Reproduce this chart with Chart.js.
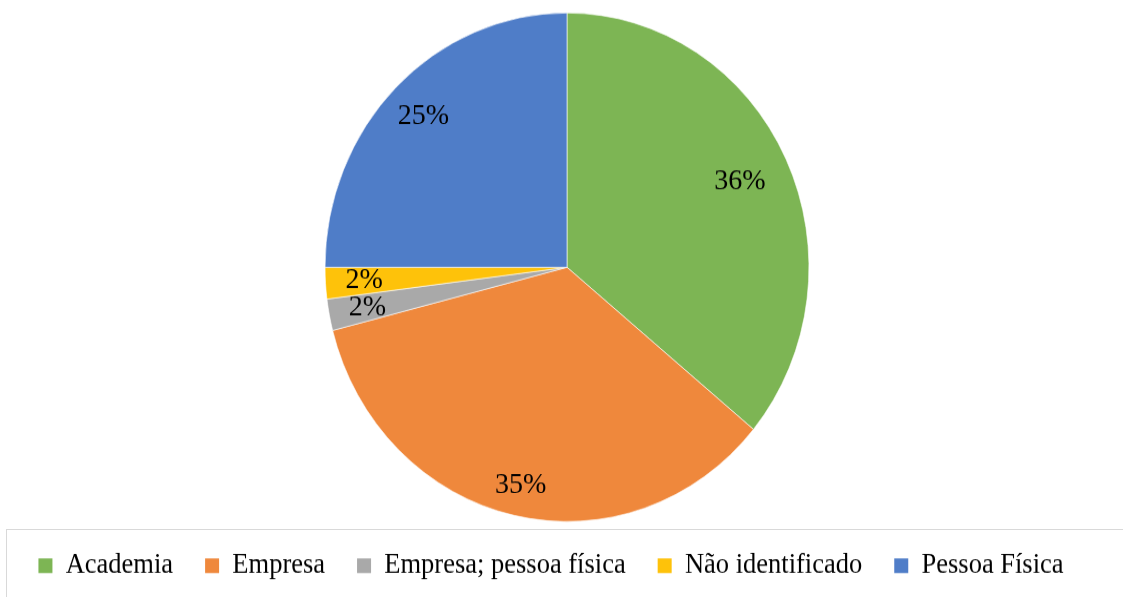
<!DOCTYPE html>
<html lang="pt">
<head>
<meta charset="UTF-8">
<title>Distribuição por tipo</title>
<script src="https://cdn.jsdelivr.net/npm/chart.js@4.4.1/dist/chart.umd.min.js"></script>
<style>
    body { margin: 0; background: #fff; }
    .wrap { position: relative; width: 1123px; height: 597px; overflow: hidden; }
    /* canvas drawn at 568px tall, shown at 597px: the reference pie is slightly oval */
    #chart { position: absolute; left: 0; top: 0; width: 1123px; height: 597px; }
    .legend-frame {
        position: absolute; left: 6px; right: -2px; top: 529px; height: 90px;
        border: 1px solid #d9d9d9; pointer-events: none;
    }
</style>
</head>
<body>
<div class="wrap">
    <canvas id="chart" width="1123" height="568" style="width:1123px;height:597px"></canvas>
    <div class="legend-frame"></div>
</div>

<script>
    // data (percent)
    var categories = ['Academia', 'Empresa', 'Empresa; pessoa física', 'Não identificado', 'Pessoa Física'];
    var shares = [36, 35, 2, 2, 25];
    var sliceColors = ['#7db554', '#ef883c', '#a9a9a9', '#fec20a', '#4f7dc8'];

    // how far out each label sits (fraction of radius), like Excel's best fit
    var labelReach = [0.79, 0.88, 0.84, 0.84, 0.84];

    var serif = '"Liberation Serif"';

    var pctLabels = {
        id: 'pctLabels',
        afterDatasetsDraw: function (chart) {
            var ctx = chart.ctx;
            var arcs = chart.getDatasetMeta(0).data;
            ctx.save();
            ctx.font = '28px ' + serif;
            ctx.fillStyle = '#000';
            ctx.textAlign = 'center';
            ctx.textBaseline = 'middle';
            arcs.forEach(function (a, i) {
                var mid = (a.startAngle + a.endAngle) / 2;
                var r = a.outerRadius * labelReach[i];
                ctx.fillText(shares[i] + '%', a.x + Math.cos(mid) * r, a.y + Math.sin(mid) * r);
            });
            ctx.restore();
        }
    };

    // legend sits a little left of the pie centre in the reference
    var legendShift = {
        id: 'legendShift',
        afterLayout: function (chart) {
            chart.legend.left -= 16;
            chart.legend.right -= 16;
            chart.legend.top -= 3.5;
            chart.legend.bottom -= 3.5;
        }
    };

    new Chart(document.getElementById('chart'), {
        type: 'pie',
        data: {
            labels: categories,
            datasets: [{
                data: shares,
                backgroundColor: sliceColors,
                borderColor: '#ffffff',
                borderWidth: 0.6
            }]
        },
        options: {
            responsive: false,
            animation: false,
            layout: { padding: { top: 12, left: 11, bottom: 3 } },
            plugins: {
                tooltip: { enabled: false },
                legend: {
                    position: 'bottom',
                    labels: {
                        color: '#111',
                        font: { family: serif, size: 26.5 },
                        boxWidth: 14,
                        boxHeight: 14,
                        padding: 32,
                        generateLabels: function (chart) {
                            return chart.data.labels.map(function (l, i) {
                                return { text: l, fillStyle: sliceColors[i], strokeStyle: sliceColors[i], lineWidth: 0, index: i };
                            });
                        }
                    }
                }
            }
        },
        plugins: [pctLabels, legendShift]
    });
</script>
</body>
</html>
